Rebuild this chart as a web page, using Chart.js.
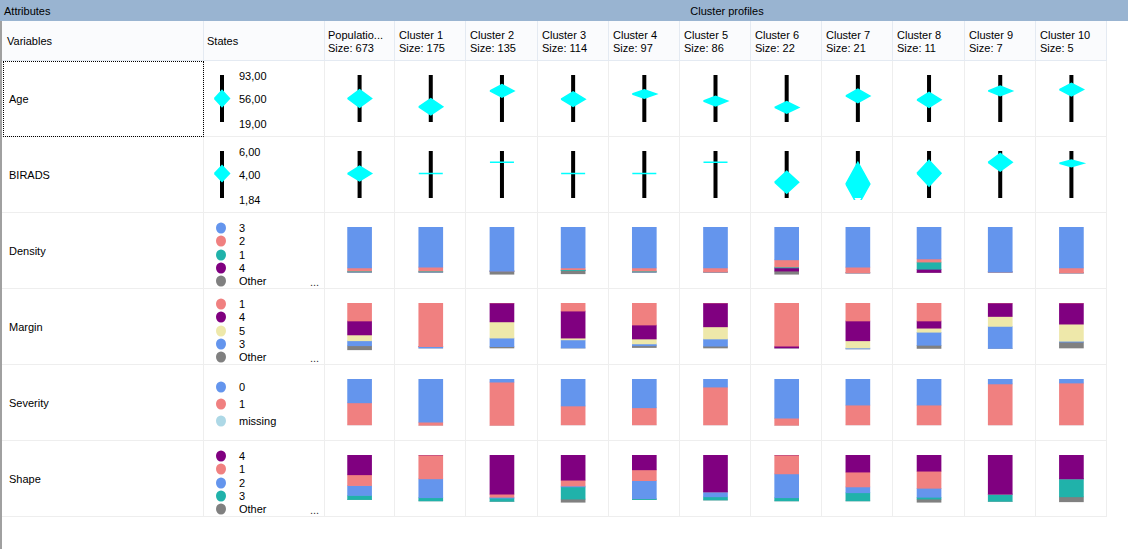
<!DOCTYPE html>
<html>
<head>
<meta charset="utf-8">
<script src="https://cdn.jsdelivr.net/npm/chart.js@4.4.1/dist/chart.umd.min.js"></script>
<style>
  body { margin: 0; width: 1128px; height: 549px; overflow: hidden; background: #fff;
         font: 11px "Liberation Sans", Arial, sans-serif; color: #000; position: relative; }
  .abs { position: absolute; white-space: nowrap; }
  .t { position: absolute; white-space: nowrap; line-height: 13px; transform: translateY(-50%); }
  .dot { position: absolute; width: 10px; height: 11px; border-radius: 50%; transform: translateY(-50%); }
  canvas { position: absolute; }
</style>
</head>
<body>
<script>
// ---- data ----
const clusters = ['Populatio...', 'Cluster 1', 'Cluster 2', 'Cluster 3', 'Cluster 4', 'Cluster 5',
                  'Cluster 6', 'Cluster 7', 'Cluster 8', 'Cluster 9', 'Cluster 10'];
const sizes = [673, 175, 135, 114, 97, 86, 22, 21, 11, 7, 5];

const ageRange = [19, 93];
const ageAll = [56, 13];
const ageMean = [56, 43, 68, 55, 63, 52, 42, 60, 54, 68, 70];
const ageSpread = [13.7, 12.6, 9.8, 11.3, 6.6, 7.6, 9.1, 10.7, 11.8, 7.4, 9.9];
const ageTicks = ['93,00', '56,00', '19,00'];

const biradsRange = [1.84, 6];
const biradsAll = [4, 0.7];
const biradsMean = [4.0, 4.0, 5.0, 4.0, 4.0, 5.0, 3.23, 3.08, 4.03, 5.0, 4.91];
const biradsSpread = [0.65, 0, 0, 0, 0, 0, 0.97, 1.92, 1.15, 0.78, 0.3];
const biradsTicks = ['6,00', '4,00', '1,84'];

const densityStates = ['3', '2', '1', '4', 'Other'];
const density = [
  [91, 89, 98, 91, 91, 91, 73, 89, 71, 100, 91],
  [7, 9, 0, 4, 7, 9, 16, 13, 7, 0, 11],
  [2, 2, 0, 2, 2, 0, 2, 0, 16, 0, 0],
  [0, 0, 0, 0, 0, 0, 7, 0, 7, 0, 0],
  [0, 0, 7, 7, 0, 0, 7, 0, 0, 0, 0]
];

const marginStates = ['1', '4', '5', '3', 'Other'];
const margin = [
  [40, 97, 0, 18, 49, 0, 96, 40, 40, 0, 0],
  [31, 0, 42, 60, 31, 53, 4, 44, 16, 30, 47],
  [13, 0, 36, 4, 11, 27, 0, 16, 9, 22, 38],
  [11, 3, 19, 18, 4, 16, 0, 2, 29, 49, 2],
  [9, 0, 3, 0, 4, 4, 0, 0, 7, 0, 13]
];

const severityStates = ['0', '1', 'missing'];
const severity = [
  [53, 96, 7, 60, 64, 18, 87, 58, 58, 11, 9],
  [49, 7, 96, 42, 38, 84, 16, 44, 44, 91, 93],
  [0, 0, 0, 0, 0, 0, 0, 0, 0, 0, 0]
];

const shapeStates = ['4', '1', '2', '3', 'Other'];
const shape = [
  [44, 0, 87, 56, 33, 82, 0, 38, 36, 87, 53],
  [24, 53, 7, 13, 24, 0, 42, 33, 38, 0, 0],
  [22, 42, 2, 2, 40, 11, 53, 13, 20, 0, 0],
  [9, 7, 7, 27, 2, 7, 7, 18, 4, 16, 40],
  [0, 0, 0, 7, 0, 0, 0, 0, 7, 0, 11]
];

// ---- colours / layout ----
const C = { '3': '#6495ED', '2': '#F08080', '1': '#20B2AA', '4': '#800080', '5': '#EEE8AA', 'Other': '#808080' };
const marginC = { '1': '#F08080', '4': '#800080', '5': '#EEE8AA', '3': '#6495ED', 'Other': '#808080' };
const sevC = { '0': '#6495ED', '1': '#F08080', 'missing': '#ADD8E6' };
const shapeC = { '4': '#800080', '1': '#F08080', '2': '#6495ED', '3': '#20B2AA', 'Other': '#808080' };
const CYAN = '#00FFFF';

const ROW0 = 60, ROWH = 76, GRID_L = 324, GRID_W = 783, COLW = GRID_W / 11;
const body = document.body;

function el(tag, cls, css, text) {
  const e = document.createElement(tag);
  if (cls) e.className = cls;
  Object.assign(e.style, css);
  if (text != null) e.textContent = text;
  body.appendChild(e);
  return e;
}
function box(x, y, w, h, bg) { return el('div', 'abs', { left: x + 'px', top: y + 'px', width: w + 'px', height: h + 'px', background: bg }); }
function txt(x, y, s) { return el('div', 't', { left: x + 'px', top: y + 'px' }, s); }

// title bar
box(0, 0, 1128, 21, '#99B4D1');
txt(4, 10.5, 'Attributes');
el('div', 't', { left: '727px', top: '10.5px', transform: 'translate(-50%,-50%)' }, 'Cluster profiles');

// header row
box(2, 21, 1105, 39, '#FAFBFD');
box(2, 60, 1105, 1, '#E4EAF2');
const colEdges = [203, GRID_L];
for (let i = 1; i <= 11; i++) colEdges.push(Math.round(GRID_L + i * COLW) - 1);
colEdges.forEach(x => box(x, 21, 1, 39, '#E4EAF2'));
txt(7, 40.5, 'Variables');
txt(207, 40.5, 'States');
clusters.forEach((c, i) => {
  const x = Math.round(GRID_L + i * COLW) + 4;
  txt(x, 35, c);
  txt(x, 48, 'Size: ' + sizes[i]);
});

// body grid
for (let r = 1; r <= 6; r++) box(2, ROW0 + r * ROWH, 1105, 1, '#EEEEEE');
colEdges.forEach(x => box(x, 61, 1, 6 * ROWH, '#EEEEEE'));
box(0, 21, 2, 528, '#A0A0A0');
el('div', 'abs', { left: '3px', top: '61px', width: '199px', height: '74px', border: '1px dotted #000' });

const varNames = ['Age', 'BIRADS', 'Density', 'Margin', 'Severity', 'Shape'];
varNames.forEach((v, r) => txt(9, ROW0 + r * ROWH + 38.5, v));

// ---- states column ----
function tickLabels(r, ticks) {
  const y0 = ROW0 + r * ROWH;
  txt(239, y0 + 16, ticks[0]);
  txt(239, y0 + 39, ticks[1]);
  txt(239, y0 + 64, ticks[2]);
}
tickLabels(0, ageTicks);
tickLabels(1, biradsTicks);

function legend(r, states, colors) {
  const y0 = ROW0 + r * ROWH;
  const n = states.length;
  const start = n === 5 ? 16.3 : 23.3, step = n === 5 ? 13.1 : 16.7;
  states.forEach((s, k) => {
    const y = y0 + start + k * step;
    el('div', 'dot', { left: '216px', top: y + 'px', background: colors[s] });
    txt(239, y, s);
  });
  if (n === 5) el('div', 't', { left: '310px', top: (y0 + 70) + 'px', color: '#333' }, '...');
}
legend(2, densityStates, C);
legend(3, marginStates, marginC);
legend(4, severityStates, sevC);
legend(5, shapeStates, shapeC);

// ---- charts ----
function makeCanvas(x, y, w, h) {
  const can = el('canvas', null, { left: x + 'px', top: y + 'px', width: w + 'px', height: h + 'px' });
  can.width = w; can.height = h;
  return can;
}
const baseOpts = {
  responsive: false, animation: false, events: [],
  plugins: { legend: { display: false }, tooltip: { enabled: false } }
};

function diamond(cx, hw, m, s) {
  return [{ x: cx - hw, y: m }, { x: cx, y: m + s }, { x: cx + hw, y: m }, { x: cx, y: m - s }, { x: cx - hw, y: m }];
}
function diamondSet(pts) {
  return { type: 'line', data: pts, borderColor: CYAN, backgroundColor: CYAN, borderWidth: 1.5,
           fill: 'shape', pointRadius: 0, tension: 0, clip: 2 };
}
function axisSet(pts) {
  return { type: 'line', data: pts, borderColor: '#000', borderWidth: 4, borderCapStyle: 'butt',
           pointRadius: 0, fill: false, spanGaps: false, clip: 2 };
}
function plotRange(r, range, means, spreads) {
  const can = makeCanvas(GRID_L, ROW0 + r * ROWH, GRID_W, ROWH);
  const hw = 12 / COLW;
  const axisPts = [];
  means.forEach((_, i) => {
    axisPts.push({ x: i + 0.5, y: range[0] }, { x: i + 0.5, y: range[1] }, { x: i + 0.5, y: null });
  });
  const sets = means.map((m, i) => diamondSet(diamond(i + 0.5, hw, m, spreads[i])));
  sets.push(axisSet(axisPts));
  return new Chart(can, {
    type: 'line',
    data: { datasets: sets },
    options: { ...baseOpts,
      layout: { padding: { top: 15, bottom: 14, left: 0, right: 0 } },
      scales: { x: { type: 'linear', display: false, min: 0, max: 11 },
                y: { type: 'linear', display: false, min: range[0], max: range[1] } } }
  });
}
function plotStateRange(r, range, all) {
  const can = makeCanvas(203, ROW0 + r * ROWH, 121, ROWH);
  return new Chart(can, {
    type: 'line',
    data: { datasets: [
      diamondSet(diamond(19, 7.5, all[0], all[1])),
      axisSet([{ x: 19, y: range[0] }, { x: 19, y: range[1] }])
    ] },
    options: { ...baseOpts,
      layout: { padding: { top: 15, bottom: 14, left: 0, right: 0 } },
      scales: { x: { type: 'linear', display: false, min: 0, max: 121 },
                y: { type: 'linear', display: false, min: range[0], max: range[1] } } }
  });
}
function plotStack(r, states, values, colors) {
  const can = makeCanvas(GRID_L, ROW0 + r * ROWH, GRID_W, ROWH);
  return new Chart(can, {
    type: 'bar',
    data: { labels: clusters, datasets: states.map((s, k) => ({
      label: s, data: values[k], backgroundColor: colors[s], borderWidth: 0, barThickness: 24
    })) },
    options: { ...baseOpts,
      layout: { padding: { top: 15, bottom: 0, left: 0, right: 0 } },
      scales: { x: { stacked: true, display: false, offset: true },
                y: { stacked: true, display: false, reverse: true, min: 0, max: (ROWH - 15) / 0.45 } } }
  });
}

plotStateRange(0, ageRange, ageAll);
plotStateRange(1, biradsRange, biradsAll);
plotRange(0, ageRange, ageMean, ageSpread);
plotRange(1, biradsRange, biradsMean, biradsSpread);
plotStack(2, densityStates, density, C);
plotStack(3, marginStates, margin, marginC);
plotStack(4, severityStates, severity, sevC);
plotStack(5, shapeStates, shape, shapeC);
</script>
</body>
</html>
